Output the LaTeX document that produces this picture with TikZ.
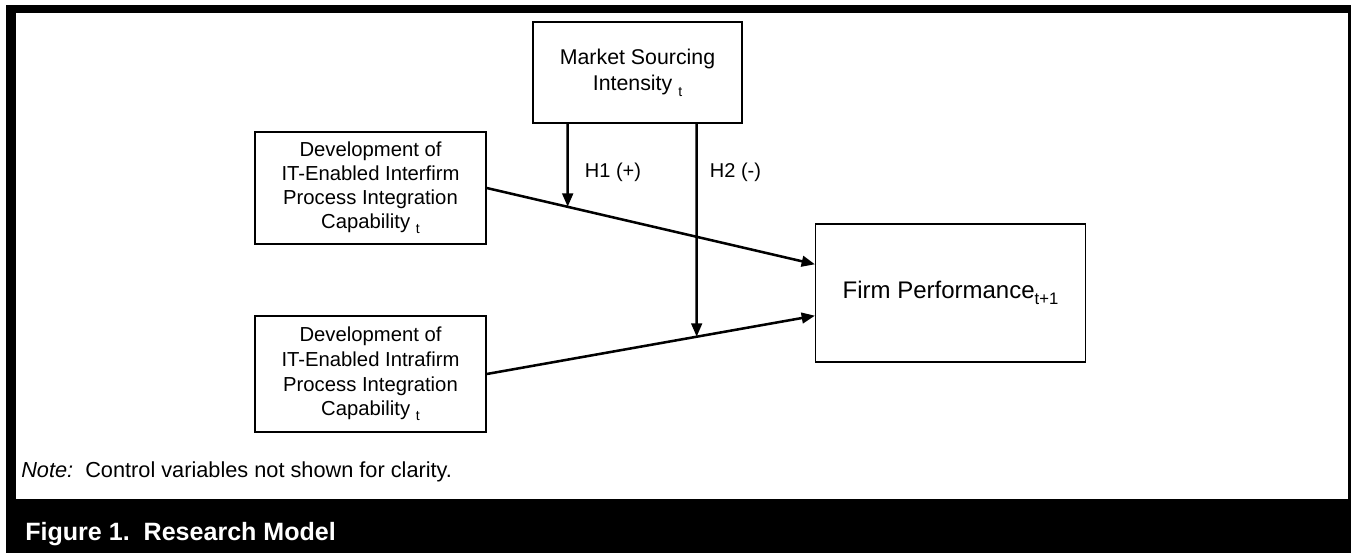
\documentclass[tikz,border=0pt]{standalone}
\usepackage{fontspec}
\setmainfont{Liberation Sans}
\usetikzlibrary{arrows.meta,calc}
\newcommand{\subt}[1]{\raisebox{-0.45ex}{\fontsize{10.5pt}{10.5pt}\selectfont #1}}
\tikzset{
  box/.style={draw=black,line width=1.1pt,fill=white,inner sep=0pt,align=center},
  conn/.style={line width=1.9pt,-{Triangle[length=10pt,width=8pt]}},
  lab/.style={inner sep=0pt,font=\fontsize{15pt}{18pt}\selectfont},
}
\begin{document}
\begin{tikzpicture}[x=0.75pt,y=-0.75pt]
\useasboundingbox (0,0) rectangle (1351,553);
% frame
\fill[black] (6,5) rectangle (1351,553);
\fill[white] (16,13) rectangle (1348,499);
% nodes
\node[box,minimum width=156.75pt,minimum height=75.75pt,font=\fontsize{16pt}{20pt}\selectfont] (market) at (637.5,72.5)
  {Market Sourcing\\Intensity \subt{t}};
\node[box,minimum width=173.25pt,minimum height=84pt,font=\fontsize{15.2pt}{18pt}\selectfont] (ub) at (370.5,188)
  {Development of\\IT-Enabled Interfirm\\Process Integration\\Capability \subt{t}};
\node[box,minimum width=173.25pt,minimum height=87pt,font=\fontsize{15.2pt}{18.5pt}\selectfont] (lb) at (370.5,374)
  {Development of\\IT-Enabled Intrafirm\\Process Integration\\Capability \subt{t}};
\node[box,minimum width=202.2pt,minimum height=103.3pt,font=\fontsize{18pt}{22pt}\selectfont] (firm) at (950.5,292.9)
  {Firm Performance\raisebox{-0.4ex}{\fontsize{12.5pt}{12.5pt}\selectfont t+1}};
% connector points
\coordinate (h1x) at (567.7,0);
\coordinate (h2x) at (696.7,0);
\coordinate (h1a) at (market.south -| h1x);
\coordinate (h2a) at (market.south -| h2x);
\coordinate (fin1) at ($(firm.west)+(0,-28.6)$);
\coordinate (fin2) at ($(firm.west)+(0,22.8)$);
\coordinate (h1b) at (intersection of ub.east--fin1 and h1a--h1x);
\coordinate (h2b) at (intersection of lb.east--fin2 and h2a--h2x);
% connectors
\draw[conn] (ub.east) -- (fin1);
\draw[conn] (lb.east) -- (fin2);
\draw[conn] (h1a) -- (h1b);
\draw[conn] (h2a) -- (h2b);
% labels
\node[lab] (l1) at (613,172) {H1 (+)};
\node[lab] (l2) at (735.5,172) {H2 (-)};
% note and caption
\node[anchor=base west,inner sep=0pt,font=\fontsize{16.3pt}{19pt}\selectfont] (note) at (21,477)
  {\textit{Note:}\ \ Control variables not shown for clarity.};
\node[anchor=base west,inner sep=0pt,text=white,font=\fontsize{18.8pt}{22pt}\selectfont\bfseries] (cap) at (25,540)
  {Figure 1.\ \ Research Model};
\end{tikzpicture}
\end{document}
